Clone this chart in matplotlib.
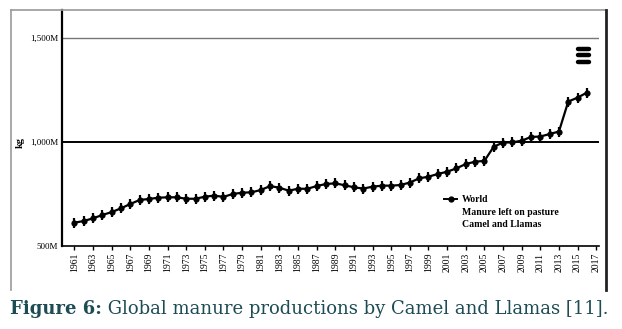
import matplotlib
matplotlib.use('Agg')
import matplotlib.pyplot as plt
from matplotlib.lines import Line2D

# ---------------------------------------------------------------------------
# Data (million kg)
# ---------------------------------------------------------------------------

years = list(range(1961, 2017))
manure = [
    612, 620, 633, 649, 663, 681, 702, 721, 726, 732,   # 1961-1970
    734, 734, 727, 727, 737, 742, 736, 750, 756, 758,   # 1971-1980
    769, 788, 780, 766, 775, 775, 788, 798, 801, 792,   # 1981-1990
    782, 776, 785, 790, 790, 793, 805, 825, 833, 846,   # 1991-2000
    857, 873, 894, 905, 909, 977, 997, 998, 1006, 1024,  # 2001-2010
    1026, 1038, 1050, 1194, 1213, 1237,                 # 2011-2016
]
tick_years = list(range(1961, 2018, 2))
y_ticks = [500, 1000, 1500]
y_labels = ['500M', '1,000M', '1,500M']
legend_lines = ['World', 'Manure left on pasture', 'Camel and Llamas']
caption_bold = 'Figure 6:'
caption_rest = ' Global manure productions by Camel and Llamas [11].'

SERIF = 'Liberation Serif'
CAP_FONT = 'DejaVu Serif'
CAP_COLOR = '#1d4c55'

# ---------------------------------------------------------------------------
# Figure
# ---------------------------------------------------------------------------

W, H = 622, 329
fig = plt.figure(figsize=(W / 100, H / 100), dpi=100)
ax = fig.add_axes([62 / W, 1 - 246 / H, (599 - 62) / W, (246 - 10) / H])

ax.plot(years, manure, color='black', lw=1.6, marker='o', ms=4.5,
        mew=0, zorder=3)
ax.plot(years, manure, ls='none', marker='|', ms=6.5, mew=1.6,
        color='black', zorder=3)

ax.set_xlim(1959.67, 2017.3)
ax.set_ylim(500, 1634)

# horizontal reference lines
ax.axhline(1000, color='black', lw=1.4, zorder=1)
ax.axhline(1500, color='#777777', lw=1.0, zorder=1)

ax.set_yticks(y_ticks)
ax.set_yticklabels(y_labels, fontsize=6.5, family=SERIF)
ax.tick_params(axis='y', length=0, pad=3)
ax.set_xticks(tick_years)
ax.set_xticklabels([str(y) for y in tick_years], rotation=90,
                   fontsize=7, family=SERIF)
ax.tick_params(axis='x', length=3, width=1, pad=2)

for side in ('top', 'right'):
    ax.spines[side].set_visible(False)
ax.spines['left'].set_linewidth(1.6)
ax.spines['bottom'].set_linewidth(1.2)

# legend: marker line for the first row only
handles = [Line2D([], [], color='black', lw=1.4, marker='o', ms=3.5),
           Line2D([], [], ls='none'), Line2D([], [], ls='none')]
ax.legend(handles, legend_lines, loc='upper left',
          bbox_to_anchor=(0.703, 0.235), frameon=False, handlelength=1.3,
          handletextpad=0.5, borderpad=0, labelspacing=0.35,
          prop={'family': SERIF, 'weight': 'bold', 'size': 7})

# chart menu icon (three bars)
for yf in (0.835, 0.808, 0.780):
    ax.plot([0.961, 0.981], [yf, yf], transform=ax.transAxes, color='black',
            lw=3.2, solid_capstyle='round', clip_on=False)

fig.text(20 / W, 1 - 142 / H, 'kg', rotation=90, ha='center', va='center',
         fontsize=7.5, family=SERIF, weight='bold')

# outer frame of the screenshot
fig.add_artist(Line2D([11 / W, 11 / W], [1 - 290 / H, 1 - 10 / H],
                      color='#999999', lw=1.2))
fig.add_artist(Line2D([11 / W, 606 / W], [1 - 10 / H, 1 - 10 / H],
                      color='#999999', lw=1.2))
fig.add_artist(Line2D([606 / W, 606 / W], [1 - 290 / H, 1 - 10 / H],
                      color='#222222', lw=2.0))

# caption
t1 = fig.text(10 / W, 1 - 318 / H, caption_bold, fontsize=13,
              family=CAP_FONT, weight='bold', color=CAP_COLOR, va='bottom')
fig.canvas.draw()
ax.annotate(caption_rest, xy=(1, 0), xycoords=t1, va='bottom',
            fontsize=13, family=CAP_FONT, color=CAP_COLOR,
            annotation_clip=False)

fig.savefig('out.png', dpi=100)
